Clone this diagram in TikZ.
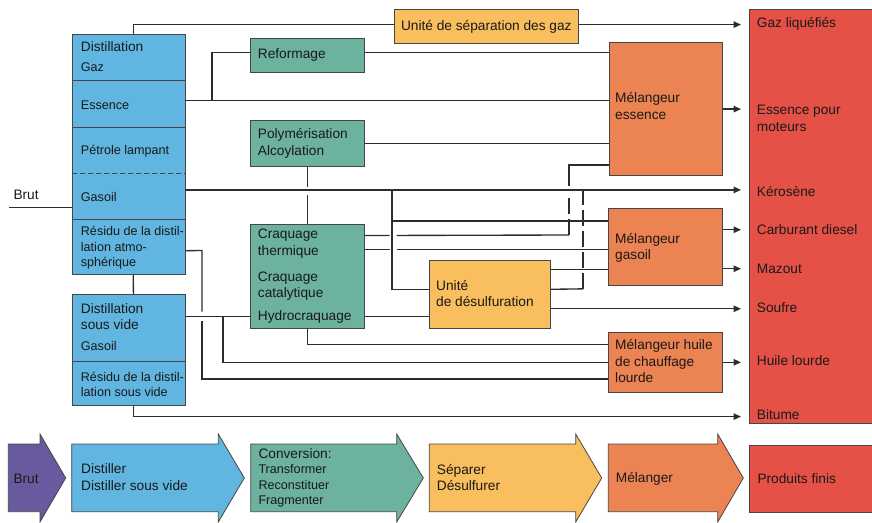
\documentclass[tikz,border=0pt]{standalone}
\usepackage{fontspec}
\setmainfont{Liberation Sans}
\usetikzlibrary{arrows.meta,calc}
\definecolor{cblue}{RGB}{96,182,225}
\definecolor{cteal}{RGB}{108,178,158}
\definecolor{cyell}{RGB}{249,190,93}
\definecolor{corange}{RGB}{236,131,82}
\definecolor{cred}{RGB}{229,81,70}
\definecolor{cpurple}{RGB}{105,90,160}
\definecolor{cedge}{RGB}{70,70,70}
\definecolor{cline}{RGB}{45,45,45}
\definecolor{ctext}{RGB}{25,25,25}
\newcommand\fmain{\fontsize{13.7}{16.5}\selectfont}
\newcommand\fsub{\fontsize{12.6}{15.5}\selectfont}
\begin{document}
\begin{tikzpicture}[x=1pt,y=-1pt,
  box/.style={draw=cedge, line width=0.9pt, anchor=north west, inner sep=0pt},
  sec/.style={fill=cblue, anchor=north west, inner sep=0pt, minimum width=113pt},
  edge/.style={draw=cedge, line width=0.9pt},
  lbl/.style={anchor=west, inner sep=0pt, align=left, font=\fmain, text=ctext},
  slbl/.style={lbl, font=\fsub},
  conn/.style={draw=cline, line width=1.35pt},
  arr/.style={conn, -{Triangle[length=7.5pt,width=6.5pt]}, shorten >=8pt},
  dconn/.style={conn, dash pattern=on 16pt off 5pt},
  bshape/.style={draw=cedge, line width=0.8pt, line join=miter}]
\useasboundingbox (0,0) rectangle (872,522);

% ---------- distillation column ----------
\node[sec, minimum height=46pt] (d1) at (72,34.3) {};
\node[sec, minimum height=46.4pt] (d2) at (72,80.3) {};
\node[sec, minimum height=46pt] (d3) at (72,126.7) {};
\node[sec, minimum height=46pt] (d4) at (72,172.7) {};
\node[sec, minimum height=55.6pt] (d5) at (72,218.7) {};
\draw[edge] (d1.north west) rectangle (d5.south east);
\draw[edge] (d1.south west) -- (d1.south east);
\draw[edge] (d2.south west) -- (d2.south east);
\draw[edge, dash pattern=on 5pt off 3pt] (d3.south west) -- (d3.south east);
\draw[edge] (d4.south west) -- (d4.south east);

\node[box, fill=cblue, minimum width=113pt, minimum height=66.7pt] (v1) at (72,294.3) {};
\node[box, fill=cblue, minimum width=113pt, minimum height=44pt] (v2) at (72,361) {};

% ---------- process boxes ----------
\node[box, fill=cyell, minimum width=183.7pt, minimum height=34.3pt] (sep) at (394,9) {};
\node[box, fill=cteal, minimum width=114pt, minimum height=34.3pt] (ref) at (250.3,37.7) {};
\node[box, fill=cteal, minimum width=114pt, minimum height=45.7pt] (poly) at (250.3,120.3) {};
\node[box, fill=cteal, minimum width=114pt, minimum height=103.4pt] (craq) at (250.3,224.3) {};
\node[box, fill=cyell, minimum width=120.7pt, minimum height=67.7pt] (desul) at (429.3,260) {};
\node[box, fill=corange, minimum width=113.6pt, minimum height=132.7pt] (me) at (608.7,42.3) {};
\node[box, fill=corange, minimum width=114pt, minimum height=77.6pt] (mg) at (608.3,207.7) {};
\node[box, fill=corange, minimum width=114pt, minimum height=60.3pt] (mh) at (608.3,331.7) {};
\node[box, fill=cred, minimum width=126pt, minimum height=414pt] (prod) at (749,9) {};

% ---------- texts ----------
\node[lbl] (tbrut) at (13.3,195) {Brut};
\node[lbl] (td1a) at (80.7,46.7) {Distillation};
\node[slbl] (td1b) at (80.7,66.7) {Gaz};
\node[slbl] (td2) at (80.7,105) {Essence};
\node[slbl] (td3) at (80.7,150.7) {Pétrole lampant};
\node[slbl] (td4) at (80.7,196.7) {Gasoil};
\node[slbl] (td5) at (80.7,247.7) {Résidu de la distil-\\lation atmo-\\sphérique};
\node[lbl] (tv1a) at (80.7,316.7) {Distillation\\sous vide};
\node[slbl] (tv1b) at (80.7,346) {Gasoil};
\node[slbl] (tv2) at (80.7,384.2) {Résidu de la distil-\\lation sous vide};
\node[lbl, anchor=center] (tsep) at (sep.center) {Unité de séparation des gaz};
\node[lbl] (tref) at (257.7,55) {Reformage};
\node[lbl] (tpoly) at (257.7,143.3) {Polymérisation\\Alcoylation};
\node[lbl] (tcr1) at (257.7,243.7) {Craquage\\thermique};
\node[lbl] (tcr2) at (257.7,286.3) {Craquage\\catalytique};
\node[lbl] (tcr3) at (257.7,316.7) {Hydrocraquage};
\node[lbl] (tdes) at (436,293.7) {Unité\\de désulfuration};
\node[lbl] (tme) at (615,106) {Mélangeur\\essence};
\node[lbl] (tmg) at (615,247.7) {Mélangeur\\gasoil};
\node[lbl] (tmh) at (615,361.3) {Mélangeur huile\\de chauffage\\lourde};
\node[lbl] (p1) at (756.7,24) {Gaz liquéfiés};
\node[lbl] (p2) at (756.7,118.3) {Essence pour\\moteurs};
\node[lbl] (p3) at (756.7,191.7) {Kérosène};
\node[lbl] (p4) at (756.7,229.3) {Carburant diesel};
\node[lbl] (p5) at (756.7,268.7) {Mazout};
\node[lbl] (p6) at (756.7,308) {Soufre};
\node[lbl] (p7) at (756.7,361) {Huile lourde};
\node[lbl] (p8) at (756.7,415) {Bitume};

% ---------- connectors ----------
\coordinate (bs) at (9,207.3);
\draw[conn] (bs) -- (bs -| d4.west);
\draw[conn] ([xshift=4.5pt]d1.north) |- ([yshift=2pt]sep.west);
\coordinate (so) at ([yshift=2pt]sep.east);
\draw[arr] (so) -- (so -| prod.west);

\coordinate (es) at ([yshift=3.5pt]d2.east);
\draw[conn] (es) -- (es -| me.west);
\coordinate (jr) at (212,100);
\draw[conn] (jr) |- ([yshift=2.5pt]ref.west);
\coordinate (ro) at ([yshift=2.5pt]ref.east);
\draw[conn] (ro) -- (ro -| me.west);
\draw[conn] (poly.east) -- (poly.east -| me.west);
\draw[conn] (poly.south) -- ++(0,20) ++(0,8) -- (craq.north);

\coordinate (gs) at ([yshift=6pt]d4.east);
\draw[arr] (gs) -- (gs -| prod.west);
\coordinate (j1) at (392,189.7);
\draw[conn] (j1) |- ([yshift=5pt]desul.west);
\coordinate (j2) at (392,221);
\draw[conn] (j2) -- (j2 -| mg.west);

\coordinate (c1) at ([yshift=41pt]craq.east);
\coordinate (c2) at ([yshift=27pt]craq.east);
\coordinate (k1) at (569,235);
\coordinate (m1) at (569,165);
\coordinate (m2) at (569,186);
\coordinate (m3) at (569,194);
\draw[conn] (c1) -- ++(24.5,0) ++(7,0) -- (k1);
\draw[dconn] (k1) -- (m3);
\draw[conn] (m2) -- (m1) -- (m1 -| me.west);
\draw[conn] (c2) -- ++(24.5,0) ++(7,0) -- (c2 -| mg.west);

\coordinate (u1) at ([yshift=24.5pt]desul.east);
\draw[conn] (u1) -- (u1 -| mg.west);
\coordinate (u2) at ([yshift=5pt]desul.east);
\coordinate (k2) at (583,288.85);
\coordinate (k3) at (583,189.7);
\draw[conn] (u2) -- (k2);
\draw[dconn] (k2) -- (k3);
\coordinate (u3) at ([yshift=-14.5pt]desul.east);
\draw[arr] (u3) -- (u3 -| prod.west);
\coordinate (c3) at ([yshift=-40pt]craq.east);
\draw[conn] (c3) -- (c3 -| desul.west);

\coordinate (vo) at ([yshift=11.7pt]v1.east);
\draw[conn] (vo) -- (vo -| craq.west);
\coordinate (j3) at ($(vo)+(37,0)$);
\draw[conn] (j3) |- (mh.west);
\coordinate (ar) at ([yshift=-4pt]d5.east);
\coordinate (ar1) at (202,250.5);
\coordinate (ar2) at (202,311.5);
\coordinate (ar3) at (202,320.5);
\draw[conn] (ar) -- (ar1) -- (ar2);
\draw[conn] (ar3) |- ([yshift=-16.8pt]mh.west);
\draw[conn] (craq.south) |- ([yshift=17.8pt]mh.west);
\draw[conn] ([xshift=4.5pt]d5.south) -- ([xshift=4.5pt]v1.north);
\coordinate (bt) at ($(v2.south)+(4.5,10.7)$);
\draw[conn] ([xshift=4.5pt]v2.south) -- (bt);
\draw[arr] (bt) -- (bt -| prod.west);

\draw[arr] (me.east) -- (me.east -| prod.west);
\coordinate (g1) at ([yshift=17.2pt]mg.east);
\coordinate (g2) at ([yshift=-21.8pt]mg.east);
\draw[arr] (g1) -- (g1 -| prod.west);
\draw[arr] (g2) -- (g2 -| prod.west);
\draw[arr] (mh.east) -- (mh.east -| prod.west);

% ---------- bottom process arrows ----------
\draw[bshape, fill=cpurple] (8.3,444) -- (40,444) -- (40,434) -- (65.7,478) -- (40,522) -- (40,511.7) -- (8.3,511.7) -- cycle;
\draw[bshape, fill=cblue] (71.7,444) -- (218.3,444) -- (218.3,434) -- (244.3,478) -- (218.3,522) -- (218.3,511.7) -- (71.7,511.7) -- cycle;
\draw[bshape, fill=cteal] (250.7,444) -- (396.7,444) -- (396.7,434) -- (423.3,478) -- (396.7,522) -- (396.7,511.7) -- (250.7,511.7) -- cycle;
\draw[bshape, fill=cyell] (429.3,444) -- (575.7,444) -- (575.7,434) -- (601.7,478) -- (575.7,522) -- (575.7,511.7) -- (429.3,511.7) -- cycle;
\draw[bshape, fill=corange] (608.3,444) -- (717.7,444) -- (717.7,434) -- (743.3,478) -- (717.7,522) -- (717.7,511.7) -- (608.3,511.7) -- cycle;
\node[box, fill=cred, minimum width=126pt, minimum height=66.7pt] (pf) at (749.3,445) {};

\node[lbl] (b1) at (13.3,479) {Brut};
\node[lbl] (b2) at (81,477.3) {Distiller\\Distiller sous vide};
\node[lbl] (b3a) at (258.3,453.3) {Conversion:};
\node[slbl] (b3b) at (258.3,486) {Transformer\\Reconstituer\\Fragmenter};
\node[lbl] (b4) at (436.7,477.5) {Séparer\\Désulfurer};
\node[lbl] (b5) at (615.7,479) {Mélanger};
\node[lbl] (b6) at (757.3,479) {Produits finis};
\end{tikzpicture}
\end{document}
